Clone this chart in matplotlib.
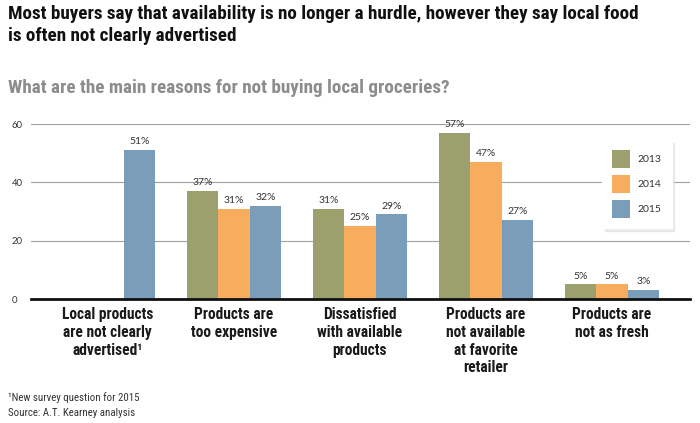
import matplotlib
matplotlib.use("Agg")
import matplotlib.pyplot as plt
import numpy as np
from matplotlib.patches import Patch

categories = ["Local products\nare not clearly\nadvertised\u00b9",
              "Products are\ntoo expensive",
              "Dissatisfied\nwith available\nproducts",
              "Products are\nnot available\nat favorite\nretailer",
              "Products are\nnot as fresh"]
years = ["2013", "2014", "2015"]
v2013 = [None, 37, 31, 57, 5]
v2014 = [None, 31, 25, 47, 5]
v2015 = [51, 32, 29, 27, 3]
series = [v2013, v2014, v2015]
colors = ["#9BA06C", "#F8AD5E", "#7A9EBA"]
yticks = [0, 20, 40, 60]

COND = ["Roboto Condensed", "DejaVu Sans"]
NUM = ["Lato", "DejaVu Sans"]

W, H = 700, 423
fig = plt.figure(figsize=(W/100, H/100), dpi=100)
ax = fig.add_axes([31/W, 1-299/H, (690-31)/W, (299-124)/H])

x = np.arange(len(categories))
bw = 0.25
for i, (vals, col) in enumerate(zip(series, colors)):
    for j, v in enumerate(vals):
        if v is None:
            continue
        xp = x[j] + (i-1)*bw
        ax.bar(xp, v, width=bw, color=col, zorder=2, linewidth=0)
        ax.text(xp, v+1.3, f"{v}%", ha="center", va="bottom", fontsize=7.5,
                color="#333333", family=NUM, clip_on=False)

ax.set_xlim(-0.61, 4.62)
ax.set_ylim(0, 60)
ax.set_yticks(yticks)
ax.set_yticklabels([str(t) for t in yticks])
for lab in ax.get_yticklabels():
    lab.set_ha("left")
    lab.set_family(NUM)
    lab.set_color("#333333")
    lab.set_fontsize(6.8)
ax.tick_params(axis="y", length=0, pad=14)
ax.grid(axis="y", color="#A0A0A0", linewidth=0.8, zorder=0)
ax.set_axisbelow(True)
ax.set_xticks(x)
ax.set_xticklabels(categories, fontsize=11.2, fontweight="bold",
                   family=COND, color="#1a1a1a", linespacing=1.22)
ax.tick_params(axis="x", length=0, pad=6)
for s in ["top", "right", "left"]:
    ax.spines[s].set_visible(False)
ax.spines["bottom"].set_linewidth(2)
ax.spines["bottom"].set_color("#111111")
ax.spines["bottom"].set_zorder(3)

handles = [Patch(facecolor=c, edgecolor="none") for c in colors]
leg = fig.legend(handles, years, loc="upper left",
                 bbox_to_anchor=(602/W, 1-140/H), frameon=True,
                 shadow={"color": "#dddddd", "alpha": 0.6, "ox": 2, "oy": -2},
                 fancybox=False, framealpha=1, edgecolor="white",
                 prop={"family": NUM, "size": 7.5}, labelcolor="#333333",
                 handlelength=1.65, handleheight=2.2, labelspacing=0.72,
                 borderpad=1.0, handletextpad=0.75, borderaxespad=0)

tkw = dict(fontsize=13.8, fontweight="bold", family=COND, va="center")
fig.text(8/W, 1-14/H, "Most buyers say that availability is no longer a hurdle, however they say local food",
         color="#111111", **tkw)
fig.text(8/W, 1-36/H, "is often not clearly advertised", color="#111111", **tkw)
fig.text(8/W, 1-88/H, "What are the main reasons for not buying local groceries?",
         color="#8C8C8C", **tkw)
fig.text(8/W, 1-398/H, "\u00b9New survey question for 2015", fontsize=7.8,
         family=COND, color="#333333", va="center")
fig.text(8/W, 1-413/H, "Source: A.T. Kearney analysis", fontsize=7.8,
         family=COND, color="#333333", va="center")

fig.savefig("out.png", dpi=100)
